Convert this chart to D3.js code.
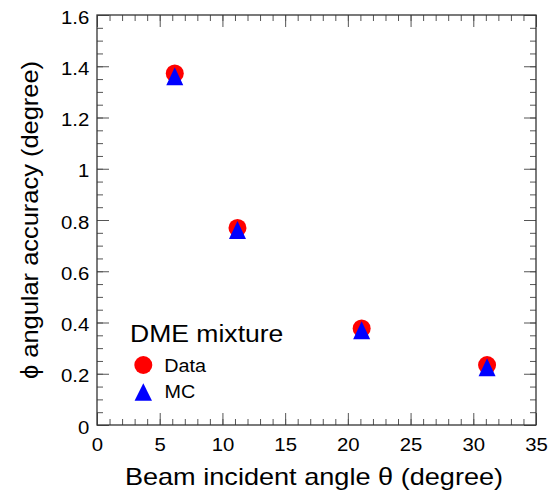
<!DOCTYPE html>
<html>
<head>
<meta charset="utf-8">
<script src="https://cdn.jsdelivr.net/npm/d3@7"></script>
<style>
  body { margin: 0; background: #fff; }
  text { font-family: "Liberation Sans", Arial, Helvetica, sans-serif; fill: #000; }
</style>
</head>
<body>
<script>
// chart values
var angles = [6.2, 11.2, 21.1, 31.1];
var dataAcc = [1.372, 0.769, 0.377, 0.234];
var mcAcc = [1.361, 0.761, 0.370, 0.225];

var xTicks = [0, 5, 10, 15, 20, 25, 30, 35];
var xTickLabels = ['0', '5', '10', '15', '20', '25', '30', '35'];
var yTicks = [0, 0.2, 0.4, 0.6, 0.8, 1, 1.2, 1.4, 1.6];
var yTickLabels = ['0', '0.2', '0.4', '0.6', '0.8', '1', '1.2', '1.4', '1.6'];

var legendTitle = 'DME mixture';
var seriesNames = ['Data', 'MC'];

function init() {
	var width = 548, height = 502;
	var left = 97, right = 536, top = 15, bottom = 425;
	var stretch = 1.13; // glyphs in the reference are a bit wider than Arial

	var svg = d3.select('body').append('svg').attr('width', width).attr('height', height);
	svg.append('rect').attr('width', width).attr('height', height).attr('fill', '#fff');

	var x = d3.scaleLinear().domain([0, 35]).range([left, right]);
	var y = d3.scaleLinear().domain([0, 1.6]).range([bottom, top]);

	var xMinor = d3.range(0, 35.001, 1);
	var yMinor = d3.range(0, 1.6001, 0.05);

	function styleAxis(g) {
		g.select('.domain').remove();
		g.selectAll('line').attr('stroke', '#555').attr('stroke-width', 1);
	}

	// minor ticks on all four sides
	svg.append('g').attr('transform', 'translate(0,' + bottom + ')')
		.call(d3.axisBottom(x).tickValues(xMinor).tickFormat('').tickSizeInner(-6).tickSizeOuter(0)).call(styleAxis);
	svg.append('g').attr('transform', 'translate(0,' + top + ')')
		.call(d3.axisTop(x).tickValues(xMinor).tickFormat('').tickSizeInner(-6).tickSizeOuter(0)).call(styleAxis);
	svg.append('g').attr('transform', 'translate(' + left + ',0)')
		.call(d3.axisLeft(y).tickValues(yMinor).tickFormat('').tickSizeInner(-6).tickSizeOuter(0)).call(styleAxis);
	svg.append('g').attr('transform', 'translate(' + right + ',0)')
		.call(d3.axisRight(y).tickValues(yMinor).tickFormat('').tickSizeInner(-6).tickSizeOuter(0)).call(styleAxis);

	// major ticks
	var xAxis = svg.append('g').attr('transform', 'translate(0,' + bottom + ')')
		.call(d3.axisBottom(x).tickValues(xTicks).tickFormat(function(d, i) { return xTickLabels[i]; })
			.tickSizeInner(-12).tickSizeOuter(0).tickPadding(13)).call(styleAxis);
	svg.append('g').attr('transform', 'translate(0,' + top + ')')
		.call(d3.axisTop(x).tickValues(xTicks).tickFormat('').tickSizeInner(-12).tickSizeOuter(0)).call(styleAxis);
	var yAxis = svg.append('g').attr('transform', 'translate(' + left + ',0)')
		.call(d3.axisLeft(y).tickValues(yTicks).tickFormat(function(d, i) { return yTickLabels[i]; })
			.tickSizeInner(-12).tickSizeOuter(0)).call(styleAxis);
	svg.append('g').attr('transform', 'translate(' + right + ',0)')
		.call(d3.axisRight(y).tickValues(yTicks).tickFormat('').tickSizeInner(-12).tickSizeOuter(0)).call(styleAxis);

	xAxis.selectAll('text').attr('font-size', 18).attr('font-family', null).attr('fill', '#000')
		.attr('transform', 'scale(' + stretch + ',1)');
	yAxis.selectAll('text').attr('font-size', 18).attr('font-family', null).attr('fill', '#000')
		.attr('x', -7.7 / stretch).attr('dy', 8)
		.attr('transform', 'scale(' + stretch + ',1)');

	// frame
	svg.append('rect').attr('x', left).attr('y', top)
		.attr('width', right - left).attr('height', bottom - top)
		.attr('fill', 'none').attr('stroke', '#333').attr('stroke-width', 1.3);

	function label(px, py, str, size, anchor, rot, sx) {
		var g = svg.append('g').attr('transform', 'translate(' + px + ',' + py + ')' + (rot ? ' rotate(' + rot + ')' : ''));
		g.append('text').text(str).attr('font-size', size).attr('text-anchor', anchor)
			.attr('transform', 'scale(' + (sx || stretch) + ',1)');
	}

	function triangle(cx, cy, w, h) {
		return 'M' + cx + ',' + (cy - h / 2) + 'L' + (cx + w / 2) + ',' + (cy + h / 2) + 'L' + (cx - w / 2) + ',' + (cy + h / 2) + 'Z';
	}

	// axis titles
	label(314, 485, 'Beam incident angle \u03b8 (degree)', 24, 'middle');
	label(38, 220, '\u03d5 angular accuracy (degree)', 24, 'middle', -90, 1.06);

	// points
	svg.append('g').selectAll('circle').data(dataAcc).enter().append('circle')
		.attr('cx', function(d, i) { return x(angles[i]); })
		.attr('cy', function(d) { return y(d); })
		.attr('r', 9)
		.attr('fill', '#ff0000');

	svg.append('g').selectAll('path').data(mcAcc).enter().append('path')
		.attr('d', function(d, i) { return triangle(x(angles[i]), y(d), 17, 18); })
		.attr('fill', '#0000ff');

	// legend
	label(130, 341.7, legendTitle, 23.5, 'start');
	svg.append('circle').attr('cx', 143.3).attr('cy', 365).attr('r', 9).attr('fill', '#ff0000');
	label(164.3, 371.7, seriesNames[0], 17.5, 'start');
	svg.append('path').attr('d', triangle(143.3, 392, 17.4, 17.4)).attr('fill', '#0000ff');
	label(164.5, 398.3, seriesNames[1], 17.5, 'start');
}

init();
</script>
</body>
</html>
